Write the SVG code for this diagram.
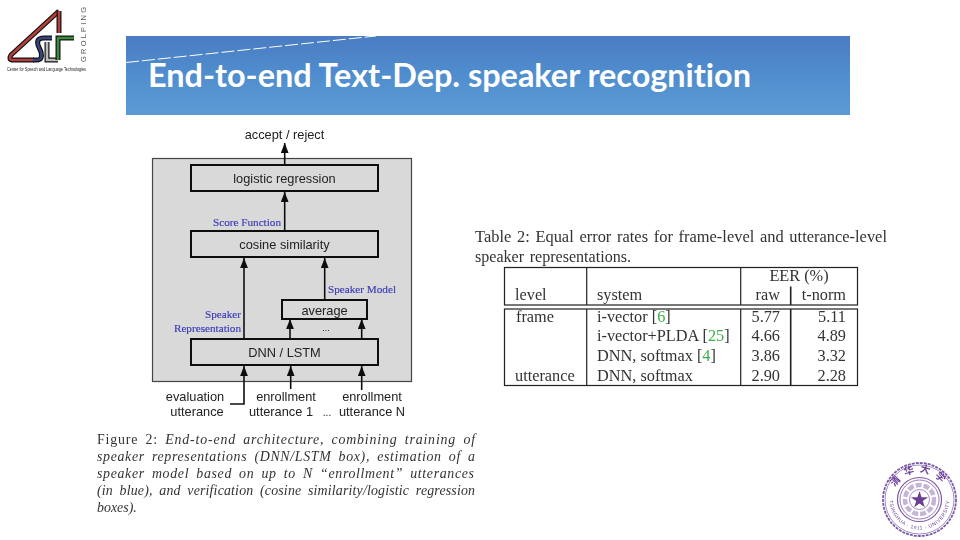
<svg xmlns="http://www.w3.org/2000/svg" width="960" height="540" viewBox="0 0 960 540">
<style>
.sf{font-family:"Liberation Sans",Arial,sans-serif;fill:#222}
.lb{font-size:12.800px;text-anchor:middle}
.bl{font-family:"Liberation Serif",serif;font-size:11.200px;fill:#3a3ab8;text-anchor:middle;stroke:#3a3ab8;stroke-width:0.150}
.cap{font-family:"Liberation Serif",serif;font-size:13.900px;fill:#333;font-style:italic;word-spacing:3px}
.tb{font-family:"Liberation Serif",serif;font-size:16.300px;fill:#333}
.tc{font-size:15.800px;word-spacing:1.500px}
.num{text-anchor:end}
.box{fill:#d9d9d9;stroke:#111;stroke-width:2}
.ln{fill:none;stroke:#111;stroke-width:1.6}
.tl{fill:none;stroke:#222;stroke-width:1.2}
.sl{fill:none;stroke:#7d5aa6}
.grn{fill:#3fae4a}
.soft{filter:url(#b)}
.blk{fill:none;stroke:#111;stroke-width:5}
.col{fill:none;stroke-width:2.600}
</style>
<defs>
<linearGradient id="hd" x1="0" y1="0" x2="0" y2="1">
<stop offset="0" stop-color="#4a7cc2"/><stop offset="0.45" stop-color="#4f8ccd"/><stop offset="1" stop-color="#5b9bd5"/>
</linearGradient>
<marker id="ah" markerUnits="userSpaceOnUse" markerWidth="10" markerHeight="8" refX="9" refY="3.500" orient="auto" viewBox="0 0 9 7">
<path d="M0 0L9 3.500L0 7Z" fill="#111"/>
</marker>
<filter id="b" x="-5%" y="-5%" width="110%" height="110%"><feGaussianBlur stdDeviation="0.350"/></filter>
<path id="sealTop" d="M892.500 499.500a27 27 0 0 1 54 0"/>
<path id="sealLow" d="M889.500 499.500a30 30 0 0 0 60 0"/>
</defs>

<g id="logo" class="soft">
<path class="blk" d="M59 11L11 55Q8 60 13 60H34"/>
<path class="col" stroke="#b5403a" d="M59 11L11 55Q8 60 13 60H34"/>
<path class="blk" d="M59 11V33"/>
<path class="col" stroke="#b5403a" d="M59 11V33"/>
<path class="blk" d="M33 60H37Q43 60 41 52L38 45Q36 38 44 38H52"/>
<path class="col" stroke="#38447c" d="M33 60H37Q43 60 41 52L38 45Q36 38 44 38H52"/>
<path class="blk" d="M47 42V60H58"/>
<path class="col" stroke="#bdbdbd" d="M47 42V60H58"/>
<path class="blk" d="M74 38H58V60"/>
<path class="col" stroke="#3f8a3f" d="M74 38H58V60"/>
<text transform="translate(86,62) rotate(-90)" font-family="Liberation Sans,sans-serif" font-size="7.500" fill="#555" textLength="55">GROLPING</text>
<text x="7" y="71" font-family="Liberation Sans,sans-serif" font-size="5" fill="#222" textLength="79" lengthAdjust="spacingAndGlyphs">Center for Speech and Language Technologies</text>
</g>

<g id="header">
<rect x="126" y="36" width="724" height="79" fill="url(#hd)"/>
<path d="M126 62.500L376 36" stroke="#fff" stroke-width="1" stroke-dasharray="13 3" fill="none"/>
<text x="148" y="87" font-family="Lato,Open Sans,sans-serif" font-size="33" font-weight="700" fill="#fff" textLength="603" lengthAdjust="spacingAndGlyphs" style="font-variant-ligatures:none">End-to-end Text-Dep. speaker recognition</text>
</g>

<g id="figure" class="soft">
<rect id="panel" x="152.500" y="158.500" width="259" height="223" fill="#d9d9d9" stroke="#444" stroke-width="1.200"/>
<g id="connectors">
<path class="ln" d="M284.700 165V143" marker-end="url(#ah)"/>
<path class="ln" d="M284.700 231V192" marker-end="url(#ah)"/>
<path class="ln" d="M244 339V258" marker-end="url(#ah)"/>
<path class="ln" d="M324.700 300V258" marker-end="url(#ah)"/>
<path class="ln" d="M290 339V319" marker-end="url(#ah)"/>
<path class="ln" d="M361.700 339V319" marker-end="url(#ah)"/>
<path class="ln" d="M230 404H244V366" marker-end="url(#ah)"/>
<path class="ln" d="M290.700 389V366" marker-end="url(#ah)" stroke-width="1"/>
<path class="ln" d="M361.700 390V366" marker-end="url(#ah)"/>
</g>
<g id="n-logistic"><rect class="box" x="191" y="165" width="187" height="26"/><text class="sf lb" x="284.500" y="183">logistic regression</text></g>
<g id="n-cosine"><rect class="box" x="191" y="231" width="187" height="26"/><text class="sf lb" x="284.500" y="249">cosine similarity</text></g>
<g id="n-average"><rect class="box" x="282" y="300" width="85" height="19"/><text class="sf lb" x="324.500" y="314.500">average</text></g>
<g id="n-dnn"><rect class="box" x="191" y="339" width="187" height="26"/><text class="sf lb" x="284.500" y="357">DNN / LSTM</text></g>
<text class="sf lb" x="284.500" y="139">accept / reject</text>
<text class="bl" x="247" y="226">Score Function</text>
<text class="bl" x="362" y="293">Speaker Model</text>
<text class="bl" x="223" y="318">Speaker</text>
<text class="bl" x="207.500" y="331.500">Representation</text>
<text class="sf" x="326" y="331" font-size="9" fill="#555" text-anchor="middle">...</text>
<text class="sf lb" x="195" y="401">evaluation</text>
<text class="sf lb" x="197" y="416">utterance</text>
<text class="sf lb" x="286" y="401">enrollment</text>
<text class="sf lb" x="281" y="416">utterance 1</text>
<text class="sf" x="327" y="416" font-size="10" text-anchor="middle" fill="#555">...</text>
<text class="sf lb" x="372" y="401">enrollment</text>
<text class="sf lb" x="372" y="416">utterance N</text>
</g>

<g id="caption" class="soft">
<text class="cap" x="97" y="444" textLength="378" lengthAdjust="spacing"><tspan font-style="normal">Figure 2:</tspan>  End-to-end architecture, combining training of</text>
<text class="cap" x="97" y="461" textLength="378" lengthAdjust="spacing">speaker representations (DNN/LSTM box), estimation of a</text>
<text class="cap" x="97" y="478" textLength="377" lengthAdjust="spacing">speaker model based on up to N “enrollment” utterances</text>
<text class="cap" x="97" y="495" textLength="378" lengthAdjust="spacing">(in blue), and verification (cosine similarity/logistic regression</text>
<text class="cap" x="97" y="512">boxes).</text>
</g>

<g id="table" class="soft">
<text class="tb tc" x="475" y="242" textLength="412" lengthAdjust="spacingAndGlyphs">Table 2: Equal error rates for frame-level and utterance-level</text>
<text class="tb tc" x="475" y="262" textLength="156" lengthAdjust="spacingAndGlyphs">speaker representations.</text>
<rect class="tl" x="504.500" y="267.500" width="353" height="37.500"/>
<rect class="tl" x="504.500" y="309" width="353" height="76.500"/>
<path class="tl" d="M586.700 267.500V305M586.700 309V385.500M740.700 267.500V305M740.700 309V385.500"/>
<path d="M790.700 286.500V305M790.700 309V385.500" fill="none" stroke="#222" stroke-width="1.600"/>
<text class="tb" x="799" y="280.500" text-anchor="middle">EER (%)</text>
<text class="tb" x="515" y="300">level</text>
<text class="tb" x="597" y="300">system</text>
<text class="tb" x="780" y="300" text-anchor="end">raw</text>
<text class="tb" x="846" y="300" text-anchor="end">t-norm</text>
<text class="tb" x="516" y="322">frame</text>
<text class="tb" x="597" y="322">i-vector [<tspan class="grn">6</tspan>]</text>
<text class="tb num" x="780" y="322">5.77</text>
<text class="tb num" x="846" y="322">5.11</text>
<text class="tb" x="597" y="341">i-vector+PLDA [<tspan class="grn">25</tspan>]</text>
<text class="tb num" x="780" y="341">4.66</text>
<text class="tb num" x="846" y="341">4.89</text>
<text class="tb" x="597" y="361">DNN, softmax [<tspan class="grn">4</tspan>]</text>
<text class="tb num" x="780" y="361">3.86</text>
<text class="tb num" x="846" y="361">3.32</text>
<text class="tb" x="515" y="380.500">utterance</text>
<text class="tb" x="597" y="380.500">DNN, softmax</text>
<text class="tb num" x="780" y="380.500">2.90</text>
<text class="tb num" x="846" y="380.500">2.28</text>
</g>

<g id="seal" class="soft">
<circle class="sl" cx="919.500" cy="499.500" r="36.500" stroke-width="1.800" stroke-dasharray="3 1"/>
<circle class="sl" cx="919.500" cy="499.500" r="34.500" stroke-width="0.700"/>
<circle class="sl" cx="919.500" cy="499.500" r="22" stroke-width="1.200"/>
<circle class="sl" cx="919.500" cy="499.500" r="19.500" stroke-width="0.800"/>
<circle class="sl" cx="919.500" cy="499.500" r="14.500" stroke-width="4.500" stroke-dasharray="6 2" opacity="0.450"/>
<circle class="sl" cx="919.500" cy="499.500" r="10" stroke-width="0.700"/>
<path d="M919.500 491l2.100 6.200h6.500l-5.300 3.800 2 6.200-5.300-3.800-5.300 3.800 2-6.200-5.300-3.800h6.500z" fill="#6b3f94"/>
<text font-family="Noto Sans CJK SC,sans-serif" font-size="10" font-weight="700" fill="#6b3f94" letter-spacing="5" text-anchor="middle"><textPath href="#sealTop" startOffset="50%">清华大学</textPath></text>
<text font-family="Liberation Sans,sans-serif" font-size="5" fill="#6b3f94" letter-spacing="0.600" text-anchor="middle"><textPath href="#sealLow" startOffset="50%">TSINGHUA · 1911 · UNIVERSITY</textPath></text>
</g>
</svg>
